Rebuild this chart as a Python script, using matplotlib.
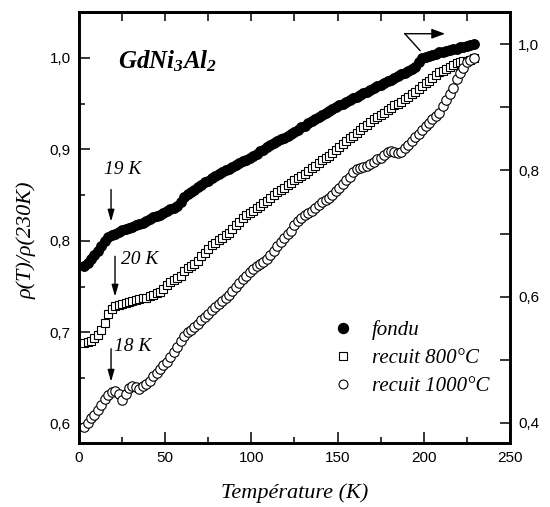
import matplotlib
matplotlib.use("Agg")
import matplotlib.pyplot as plt
from matplotlib.ticker import MultipleLocator, FuncFormatter
from matplotlib.lines import Line2D

plt.rcParams['mathtext.fontset'] = 'custom'
plt.rcParams['mathtext.rm'] = 'Liberation Serif'
plt.rcParams['mathtext.it'] = 'Liberation Serif:italic'
plt.rcParams['mathtext.bf'] = 'Liberation Serif:bold'
plt.rcParams['mathtext.bfit'] = 'Liberation Serif:italic:bold'

# Températures (K) : un point tous les 2 K, de 3 à 229 K
temperature = list(range(3, 231, 2))

# fondu (axe de droite)
rho_fondu = [
    .648, .654, .660, .666, .673, .680, .688, .694, .698, .700,
    .703, .705, .707, .709, .711, .713, .715, .717, .720, .723,
    .726, .728, .730, .733, .736, .739, .741, .744, .750, .758,
    .762, .766, .769, .773, .777, .781, .784, .788, .791, .794,
    .797, .800, .803, .806, .809, .812, .815, .817, .820, .823,
    .826, .830, .833, .837, .840, .843, .846, .849, .852, .855,
    .858, .861, .864, .868, .871, .875, .878, .881, .885, .888,
    .891, .894, .897, .900, .903, .906, .909, .911, .914, .916,
    .919, .922, .925, .928, .930, .933, .936, .938, .941, .943,
    .946, .949, .952, .955, .958, .961, .964, .972, .978, .980,
    .981, .983, .985, .987, .988, .990, .991, .992, .993, .995,
    .996, .997, .998, 1.000]

# recuit 800°C (axe de gauche)
rho_800 = [
    .688, .689, .691, .694, .697, .702, .710, .720, .726, .729,
    .730, .731, .732, .733, .734, .735, .736, .737, .738, .740,
    .741, .743, .744, .747, .752, .755, .757, .759, .762, .767,
    .770, .772, .775, .778, .783, .787, .791, .795, .798, .801,
    .803, .806, .809, .813, .817, .821, .825, .828, .830, .833,
    .836, .838, .841, .844, .847, .850, .853, .855, .858, .861,
    .863, .866, .869, .871, .873, .876, .879, .882, .885, .888,
    .891, .893, .896, .899, .902, .906, .909, .912, .915, .918,
    .921, .924, .927, .930, .933, .935, .938, .940, .943, .945,
    .948, .950, .952, .955, .957, .960, .963, .966, .969, .972,
    .975, .978, .981, .984, .986, .988, .990, .992, .994, .995,
    .996, .997, .998, 1.000]

# recuit 1000°C (axe de gauche)
rho_1000 = [
    .597, .601, .606, .610, .615, .620, .627, .632, .635, .636,
    .633, .626, .633, .639, .641, .640, .638, .641, .644, .647,
    .652, .656, .660, .664, .668, .673, .678, .684, .690, .696,
    .700, .703, .706, .709, .713, .717, .720, .724, .728, .731,
    .734, .738, .741, .745, .749, .754, .758, .762, .766, .769,
    .772, .775, .777, .780, .784, .789, .794, .799, .803, .807,
    .811, .817, .822, .825, .828, .830, .833, .836, .839, .842,
    .845, .847, .850, .854, .858, .862, .866, .870, .875, .878,
    .880, .881, .882, .884, .886, .889, .891, .894, .897, .898,
    .897, .896, .897, .901, .905, .909, .913, .917, .921, .925,
    .929, .933, .936, .940, .947, .954, .960, .967, .977, .983,
    .989, .995, .998, 1.000]

labels = ['fondu', 'recuit 800°C', 'recuit 1000°C']

serif = 'Liberation Serif'
sans = 'Liberation Sans'


def virgule(v, pos):
    return f'{v:.1f}'.replace('.', ',')


fig = plt.figure(figsize=(5.5, 5.07), dpi=100)
ax = fig.add_axes([0.1436, 0.1262, 0.7837, 0.8501])
ax2 = ax.twinx()

ax.plot(temperature, rho_800, ls='none', marker='s', ms=6.4, mfc='white',
        mec='black', mew=0.8)
ax.plot(temperature, rho_1000, ls='none', marker='o', ms=6.8, mfc='white',
        mec='black', mew=0.8)
ax2.plot(temperature, rho_fondu, ls='none', marker='o', ms=6.8, color='black')

ax.set_xlim(0, 250)
ax.set_ylim(0.579, 1.050)
ax2.set_ylim(0.368, 1.051)

ax.xaxis.set_major_locator(MultipleLocator(50))
ax.xaxis.set_minor_locator(MultipleLocator(25))
ax.yaxis.set_major_locator(MultipleLocator(0.1))
ax.yaxis.set_minor_locator(MultipleLocator(0.05))
ax2.yaxis.set_major_locator(MultipleLocator(0.2))
ax2.yaxis.set_minor_locator(MultipleLocator(0.1))
ax.yaxis.set_major_formatter(FuncFormatter(virgule))
ax2.yaxis.set_major_formatter(FuncFormatter(virgule))

for a in (ax, ax2):
    for s in a.spines.values():
        s.set_linewidth(1.9)
    a.tick_params(which='both', direction='in', width=1.1, labelsize=11,
                  pad=6)
ax.tick_params(which='major', length=8)
ax.tick_params(which='minor', length=4.5)
ax2.tick_params(which='both', length=7)
for lab in ax.get_xticklabels() + ax.get_yticklabels() + ax2.get_yticklabels():
    lab.set_fontfamily(sans)

haut = ax.secondary_xaxis('top')
haut.set_xticks(range(0, 251, 25))
haut.tick_params(direction='in', length=6.5, width=1.1, labeltop=False)
haut.spines['top'].set_linewidth(1.9)

ax.set_xlabel('Température (K)', family=serif, style='italic', fontsize=16,
              labelpad=13)
ax.set_ylabel('ρ(T)/ρ(230K)', family=serif, style='italic', fontsize=16)
ax.yaxis.set_label_coords(-0.098, 0.47)

ax.text(22.5, 0.988, r'$\mathbfit{GdNi}_{\mathbfit{3}}\mathbfit{Al}_{\mathbfit{2}}$',
        fontsize=18, va='baseline')

fleche = dict(arrowstyle='-|>,head_length=0.7,head_width=0.2', color='black',
              lw=1.0, shrinkA=0, shrinkB=0)
ax.annotate('', xy=(18.6, 0.821), xytext=(18.6, 0.856), arrowprops=fleche)
ax.text(25.5, 0.878, '19 K', family=serif, style='italic', fontsize=14,
        ha='center', va='center')
ax.annotate('', xy=(20.9, 0.739), xytext=(20.9, 0.783), arrowprops=fleche)
ax.text(35.4, 0.780, '20 K', family=serif, style='italic', fontsize=14,
        ha='center', va='center')
ax.annotate('', xy=(18.6, 0.646), xytext=(18.6, 0.682), arrowprops=fleche)
ax.text(31.3, 0.684, '18 K', family=serif, style='italic', fontsize=14,
        ha='center', va='center')

ax2.plot([197.8, 189.0], [0.990, 1.0166], color='black', lw=1.0)
ax2.annotate('', xy=(212.3, 1.0166), xytext=(189.0, 1.0166),
             arrowprops=dict(arrowstyle='-|>,head_length=0.8,head_width=0.3',
                             color='black', lw=1.0, shrinkA=0, shrinkB=0))

poignees = [
    Line2D([], [], ls='none', marker='o', ms=7.2, color='black'),
    Line2D([], [], ls='none', marker='s', ms=6.0, mfc='white', mec='black', mew=0.8),
    Line2D([], [], ls='none', marker='o', ms=6.4, mfc='white', mec='black', mew=0.8),
]
ax2.legend(poignees, labels, loc='upper left', bbox_to_anchor=(0.588, 0.285),
           frameon=False, borderpad=0, borderaxespad=0, handlelength=1.0,
           handletextpad=0.9, labelspacing=0.4,
           prop=dict(family=serif, style='italic', size=15))

fig.savefig('out.png', dpi=100)
